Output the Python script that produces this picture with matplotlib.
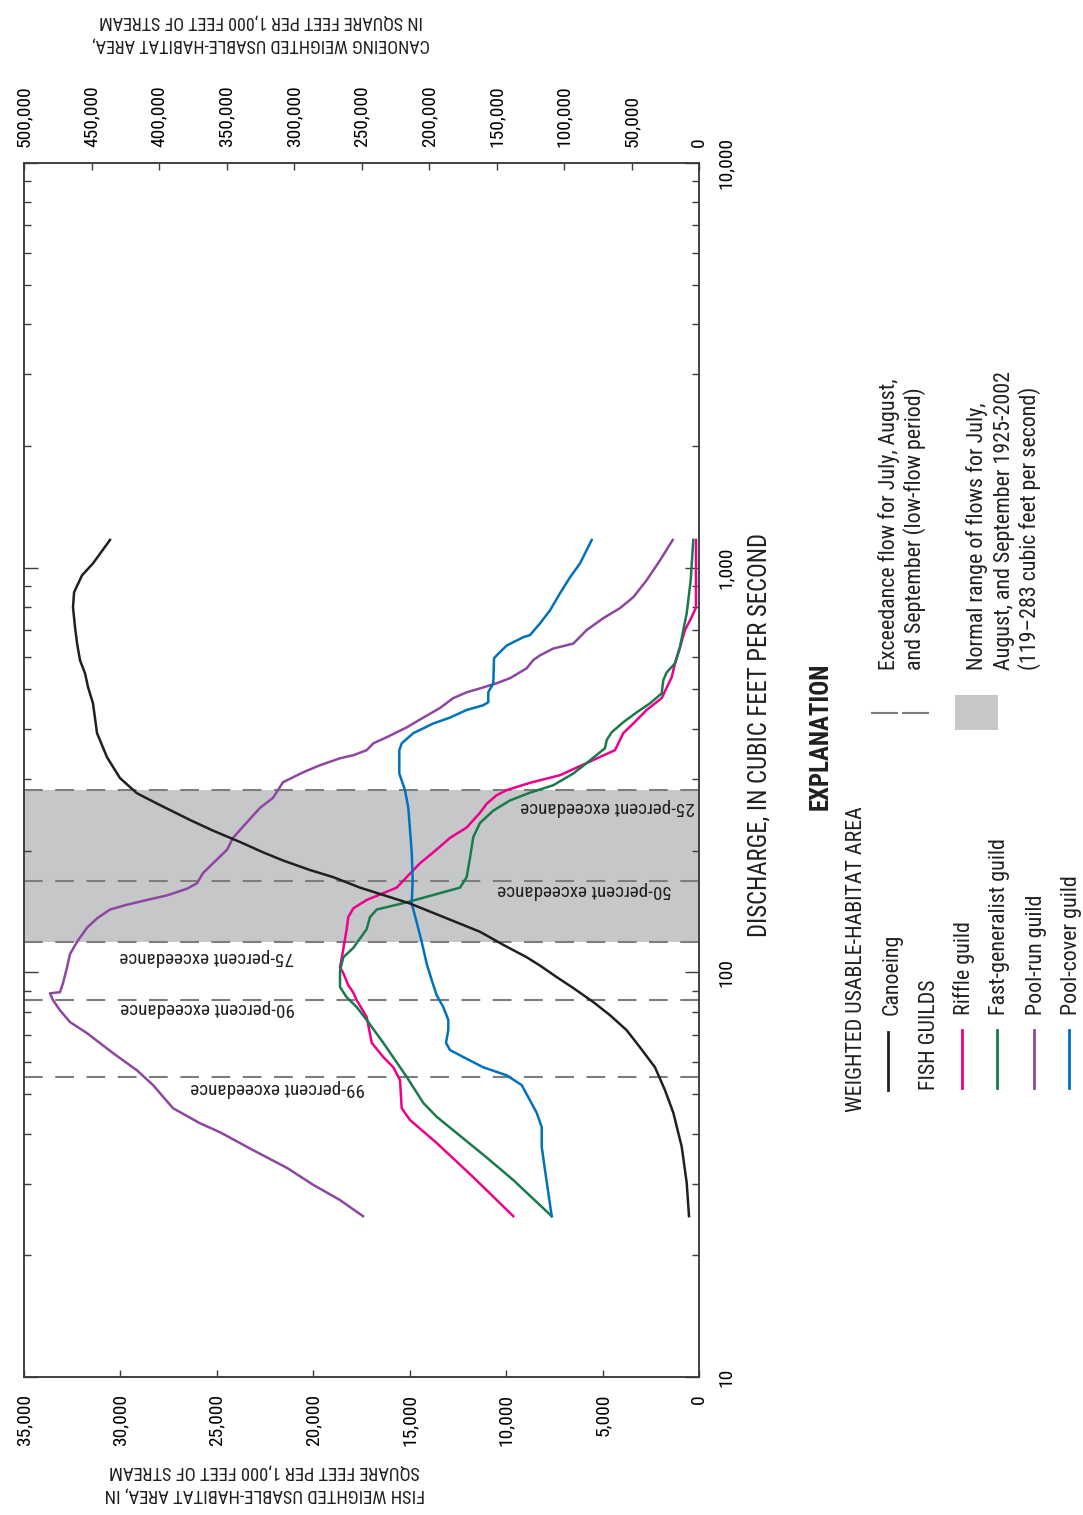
import matplotlib
matplotlib.use("Agg")
import matplotlib.pyplot as plt
from matplotlib.lines import Line2D
from matplotlib.patches import Rectangle
from matplotlib.ticker import FixedLocator, LogLocator, NullFormatter

plt.rcParams["font.family"] = ["Roboto Condensed", "Archivo Narrow", "PT Sans Narrow",
                               "Liberation Sans Narrow", "DejaVu Sans"]

# discharge (cfs) and weighted usable-habitat area (sq ft per 1,000 ft of stream)
canoe_q = [25, 30.2, 37.1, 45.0, 51.2, 58.3, 65.3, 72.0, 78.4, 84.5, 91.5, 97.4, 104, 109, 117,
           126, 135, 148, 162, 172, 179, 189, 198, 210, 224, 238, 259, 277, 302, 340, 390,
           462, 507, 548, 590, 650, 712, 798, 869, 957, 1024, 1170]
canoe_wua = [7400, 9100, 12800, 19000, 25200, 32600, 43700, 53600, 65900, 78300, 93100, 105400,
             117800, 127600, 145000, 162200, 184400, 214100, 251100, 271100, 288100, 308100,
             322900, 340000, 360000, 377000, 399200, 416300, 428900, 438500, 445900, 448900,
             452600, 454800, 458500, 460700, 462200, 463700, 462900, 457000, 448900, 436300]

riffle_q = [1170, 797, 755, 701, 636, 580, 536, 476, 445, 412, 390, 354, 329, 307, 294, 282, 274,
            261, 248, 228, 215, 198, 186, 172, 162, 157, 151, 144, 137, 128, 113, 103, 99.6, 93.0,
            89.4, 85.4, 77.6, 67.0, 61.8, 58.3, 54.2, 46.2, 43.2, 37.9, 31.2, 25]
riffle_wua = [156, 156, 378, 726, 985, 1244, 1415, 1934, 2712, 3407, 3925, 4355, 5823, 7207, 8763,
              9972, 10491, 11009, 11355, 12045, 12906, 13776, 14470, 15156, 15674, 16369, 17230,
              17925, 18184, 18267, 18459, 18614, 18443, 18184, 17940, 17748, 17230, 16970, 16369,
              15851, 15503, 15415, 14985, 13600, 11703, 9629]

fastgen_q = [1170, 931, 771, 701, 636, 580, 551, 527, 489, 462, 439, 415, 392, 375, 358, 329, 310,
             290, 278, 266, 251, 234, 216, 192, 172, 162, 157, 149, 143, 137, 128, 115, 109, 101,
             92.0, 86.8, 82.1, 76.3, 67.0, 55.2, 47.6, 44.0, 40.1, 34.9, 30.7, 25]
fastgen_wua = [296, 430, 638, 814, 985, 1244, 1675, 1851, 1934, 2541, 3230, 3925, 4526, 4786, 4874,
               5823, 6518, 7555, 8763, 9800, 10666, 11355, 11703, 11874, 12045, 12392, 13429,
               15156, 16711, 17059, 17230, 17925, 18443, 18614, 18614, 18267, 17748, 17230, 16369,
               15156, 14295, 13600, 12563, 11008, 9629, 7637]

poolrun_q = [1170, 1042, 931, 845, 794, 750, 701, 649, 631, 607, 591, 564, 533, 518, 503, 492, 476,
             450, 426, 403, 381, 368, 354, 344, 338, 325, 312, 295, 270, 255, 235, 215, 201, 186,
             176, 171, 166, 161, 155, 151, 147, 143, 136, 129, 119, 111, 103, 94.1, 89.4, 88.8,
             85.4, 80.6, 75.4, 70.8, 63.2, 57.3, 52.7, 46.2, 42.4, 40.3, 36.4, 32.9, 29.9, 27.4, 25]
poolrun_wua = [1364, 2022, 2712, 3407, 4096, 4962, 5823, 6518, 7555, 8244, 8592, 8934, 9800, 10489,
               11355, 12045, 12740, 13429, 14295, 15156, 16193, 16888, 17230, 17925, 18614, 19652,
               20533, 21570, 22088, 22762, 23436, 24162, 24473, 25199, 25718, 25873, 26029, 26547,
               27584, 28621, 29658, 30540, 31213, 31732, 32251, 32614, 32769, 32977, 33132, 33651,
               33495, 33132, 32614, 31732, 30384, 29140, 28310, 27273, 25873, 24836, 23125, 21362,
               20014, 18614, 17422]

poolcover_q = [1170, 1024, 946, 864, 784, 728, 681, 673, 642, 607, 597, 518, 492, 465, 457, 445, 426,
               412, 390, 368, 354, 310, 282, 255, 225, 198, 169, 148, 133, 119, 105, 95.7, 87.8,
               82.1, 76.3, 72.1, 67.0, 64.3, 61.8, 58.3, 55.7, 52.7, 45.0, 41.5, 37.1, 32.5, 25]
poolcover_wua = [5563, 6170, 6689, 7207, 7726, 8244, 8763, 9110, 9971, 10489, 10629, 10666, 10925,
                 10925, 11184, 12045, 12911, 13776, 14813, 15415, 15539, 15539, 15244, 15073, 14985,
                 14896, 14845, 14896, 14637, 14378, 14119, 13859, 13600, 13258, 12999, 12999, 13118,
                 12911, 12221, 11184, 9971, 9193, 8415, 8156, 8156, 7985, 7637]

exceed_pct = [25, 50, 75, 90, 99]
exceed_q = [283, 168, 119, 85.6, 55.3]
normal_range = (119, 283)

fish_ticks = list(range(0, 35001, 5000))
canoe_ticks = list(range(0, 500001, 50000))
q_ticks = [10, 100, 1000, 10000]

BLACK = "#231f20"
RIFFLE = "#ec008c"
FASTGEN = "#1a7a4c"
POOLRUN = "#8e47a0"
POOLCOVER = "#0072bc"
BAND = "#c6c7c9"
DASH = "#7d7d7d"
SPINE = "#3c3c3c"

W, H = 1083, 1515
fig = plt.figure(figsize=(W / 100, H / 100), dpi=100)


def px(x, y):
    return x / W, 1 - y / H


ax = fig.add_axes([24 / W, 1 - 1377.3 / H, 675 / W, 1214.6 / H])
ax.set_yscale("log")
ax.set_ylim(10, 10000)
ax.set_xlim(35000, 0)

ax.axhspan(*normal_range, color=BAND, lw=0, zorder=0)
for q in exceed_q:
    ax.axhline(q, color=DASH, lw=1.5, dashes=(9, 6), zorder=1)

lw = 1.8
ax.plot(riffle_wua, riffle_q, color=RIFFLE, lw=lw, zorder=3)
ax.plot(fastgen_wua, fastgen_q, color=FASTGEN, lw=lw, zorder=3)
ax.plot(poolrun_wua, poolrun_q, color=POOLRUN, lw=lw, zorder=3)
ax.plot(poolcover_wua, poolcover_q, color=POOLCOVER, lw=lw, zorder=3)

# exceedance labels, upside down like the rest of the turned page
lab_pos = {25: (4750, 256), 50: (5950, 160), 75: (25500, 109), 90: (25500, 81.5), 99: (21850, 51.8)}
for pct in exceed_pct:
    xw, yq = lab_pos[pct]
    ax.text(xw, yq, f"{pct}-percent exceedance", rotation=180, ha="center", va="center",
            fontsize=13.8, color="#231f20", zorder=4)

ax2 = ax.twiny()
ax2.set_xlim(500000, 0)
ax2.plot(canoe_wua, canoe_q, color=BLACK, lw=lw, zorder=3)

for a in (ax, ax2):
    for s in a.spines.values():
        s.set_color(SPINE)
        s.set_linewidth(1.1)

ax.xaxis.set_major_locator(FixedLocator(fish_ticks))
ax.set_xticklabels([f"{v:,}" for v in fish_ticks])
ax.tick_params(axis="x", which="major", direction="in", length=5, width=1, color=SPINE,
               labelrotation=90, labelsize=14, pad=12, top=False)

ax2.xaxis.set_major_locator(FixedLocator(canoe_ticks))
ax2.set_xticklabels([f"{v:,}" for v in canoe_ticks])
ax2.tick_params(axis="x", which="major", direction="in", length=5, width=1, color=SPINE,
                labelrotation=90, labelsize=14, pad=11)

ax.yaxis.set_major_locator(FixedLocator(q_ticks))
ax.yaxis.set_minor_locator(LogLocator(base=10, subs=range(2, 10)))
ax.yaxis.set_minor_formatter(NullFormatter())
ax.set_yticklabels([f"{v:,}" for v in q_ticks])
ax.tick_params(axis="y", which="both", direction="in", left=True, right=True,
               labelleft=False, labelright=True, color=SPINE, width=1, labelsize=14, pad=13)
ax.tick_params(axis="y", which="major", length=10)
ax.tick_params(axis="y", which="minor", length=5)
for t in ax.get_yticklabels():
    t.set_rotation(90)
    t.set_va("center")

# axis titles
fig.text(*px(265, 1483), "FISH WEIGHTED USABLE-HABITAT AREA, IN\nSQUARE FEET PER 1,000 FEET OF STREAM",
         rotation=180, ha="center", va="center", multialignment="center", fontsize=13.3,
         linespacing=1.35, color="#231f20")
fig.text(*px(261, 33), "CANOEING WEIGHTED USABLE-HABITAT AREA,\nIN SQUARE FEET PER 1,000 FEET OF STREAM",
         rotation=180, ha="center", va="center", multialignment="center", fontsize=13.1,
         linespacing=1.4, color="#231f20")
fig.text(*px(767, 735), "DISCHARGE, IN CUBIC FEET PER SECOND", rotation=90, rotation_mode="anchor",
         ha="center", va="baseline", fontsize=17.8, color="#231f20")

# explanation block


def vtext(x, y, s, size=15.8, **kw):
    fig.text(*px(x, y), s, rotation=90, rotation_mode="anchor", ha=kw.pop("ha", "left"),
             va="baseline", fontsize=size, color="#231f20", **kw)


vtext(828, 736, "EXPLANATION", size=17.9, ha="center", fontweight="bold")
vtext(862, 1112, "WEIGHTED USABLE-HABITAT AREA")
vtext(898, 1015, "Canoeing")
vtext(935, 1090, "FISH GUILDS")

legend_rows = [(970, "Riffle guild", RIFFLE), (1005, "Fast-generalist guild", FASTGEN),
               (1042, "Pool-run guild", POOLRUN), (1077, "Pool-cover guild", POOLCOVER)]
fig.add_artist(Line2D([px(888, 0)[0]] * 2, [px(0, 1032)[1], px(0, 1090)[1]],
                      transform=fig.transFigure, color=BLACK, lw=2))
for base, name, col in legend_rows:
    vtext(base, 1015, name)
    xs = base - 8
    fig.add_artist(Line2D([px(xs, 0)[0]] * 2, [px(0, 1030)[1], px(0, 1088)[1]],
                          transform=fig.transFigure, color=col, lw=2))

for x0, x1 in ((872, 897), (903, 928)):
    fig.add_artist(Line2D([px(x0, 0)[0], px(x1, 0)[0]], [px(0, 713)[1]] * 2,
                          transform=fig.transFigure, color=DASH, lw=1.5))
vtext(895, 670, "Exceedance flow for July, August,")
vtext(921, 670, "and September (low-flow period)")

fig.add_artist(Rectangle(px(955, 730), 43 / W, 35 / H, transform=fig.transFigure,
                         facecolor=BAND, edgecolor="none"))
vtext(983, 670, "Normal range of flows for July,")
vtext(1010, 670, "August, and September 1925-2002")
vtext(1036, 670, "(119\u2013283 cubic feet per second)")

fig.savefig("out.png", dpi=100)
plt.close(fig)
